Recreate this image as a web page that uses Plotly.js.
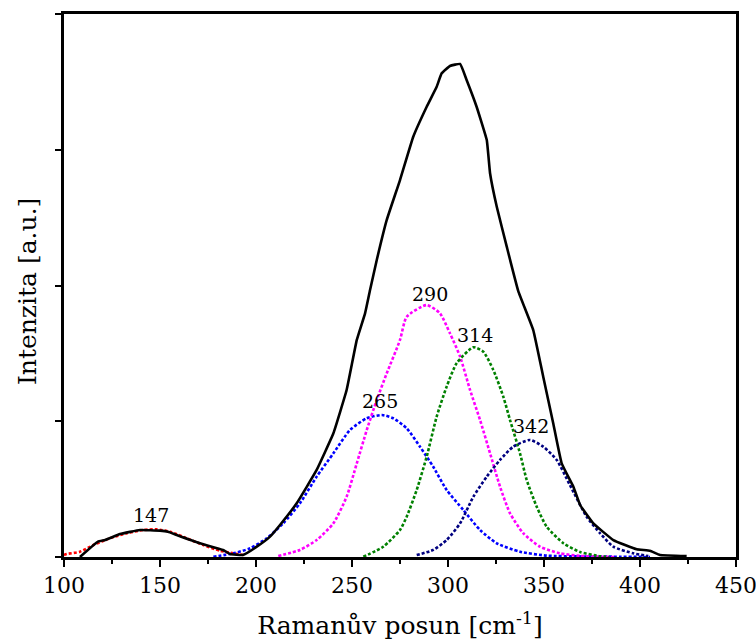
<!DOCTYPE html>
<html>
<head>
<meta charset="utf-8">
<script src="https://cdn.plot.ly/plotly-3.0.1.min.js"></script>
<style>html,body{margin:0;padding:0;background:#fff;}#chart{width:756px;height:642px;}</style>
</head>
<body>
<div id="chart"></div>
<script>
// Measured spectrum (black)
var measX = [108.3,117.7,121.4,129.2,139.6,150.0,154.2,158.7,170.8,182.8,186.5,193.2,200.4,207.3,212.5,221.2,231.6,240.3,247.2,252.5,256.8,259.4,262.9,268.1,275.0,281.9,288.9,294.1,296.7,301.0,306.3,309.7,314.9,320.2,321.9,325.4,330.6,336.6,344.4,349.6,354.8,359.2,365.3,368.8,375.7,386.1,398.3,405.2,410.4,424.3];
var measY = [0.000,0.113,0.125,0.169,0.199,0.194,0.186,0.162,0.101,0.052,0.022,0.015,0.076,0.150,0.236,0.396,0.641,0.911,1.230,1.599,1.795,1.967,2.188,2.483,2.777,3.096,3.317,3.464,3.563,3.617,3.632,3.514,3.317,3.071,2.827,2.580,2.286,1.959,1.672,1.328,0.985,0.690,0.518,0.383,0.248,0.125,0.057,0.046,0.015,0.007];

// Fitted components
var p147X = [100.0,101.4,108.3,115.3,124.0,132.7,141.3,148.3,155.2,163.9,172.6,181.3,188.2,193.4];
var p147Y = [0.015,0.022,0.039,0.088,0.138,0.175,0.199,0.204,0.186,0.138,0.088,0.046,0.027,0.015];

var p265X = [177.8,188.2,196.9,205.6,214.2,222.9,231.6,240.3,249.0,257.7,265.6,271.5,278.5,285.4,292.3,299.3,308.0,316.7,325.4,337.5,351.4,370.0,390.0,405.2];
var p265Y = [0.002,0.027,0.064,0.138,0.248,0.396,0.592,0.764,0.936,1.022,1.046,1.022,0.948,0.813,0.665,0.494,0.346,0.199,0.101,0.039,0.010,0.004,0.002,0.000];

var p290X = [211.6,222.9,231.6,240.3,247.2,252.5,257.7,262.9,268.1,275.0,278.5,288.9,295.8,301.0,306.3,311.5,316.7,321.9,327.1,332.3,339.2,347.9,358.3,368.8,386.5];
var p290Y = [0.007,0.052,0.125,0.248,0.444,0.690,0.936,1.157,1.353,1.599,1.770,1.856,1.795,1.648,1.476,1.230,1.009,0.764,0.518,0.322,0.175,0.076,0.027,0.008,0.000];

var p314X = [255.9,266.3,275.0,278.5,283.7,288.9,294.1,299.3,304.5,313.2,318.4,323.6,328.8,332.3,337.5,341.0,346.2,351.4,360.1,368.8,379.2,384.0];
var p314Y = [0.002,0.076,0.199,0.297,0.494,0.739,1.034,1.255,1.427,1.545,1.512,1.378,1.181,1.009,0.764,0.567,0.371,0.223,0.101,0.037,0.006,0.000];

var p342X = [283.7,292.3,299.3,306.3,313.2,320.2,327.1,334.0,342.7,349.6,356.6,363.5,372.2,379.2,386.1,396.5,404.3];
var p342Y = [0.015,0.052,0.125,0.248,0.444,0.592,0.715,0.813,0.862,0.813,0.715,0.530,0.297,0.175,0.076,0.027,0.007];

var peakLabels = ['147','265','290','314','342'];
var peakLabelX = [145.3,264.6,290.4,313.8,343.0];
var peakLabelY = [0.31,1.146,1.937,1.635,0.965];

var xTickVals = [100,150,200,250,300,350,400,450];

var dotDash = '3px,2px';
function comp(x, y, color) {
  return {x: x, y: y, type: 'scatter', mode: 'lines',
    line: {color: color, width: 2.6, dash: dotDash, shape: 'spline', smoothing: 0.6},
    hoverinfo: 'skip', showlegend: false};
}
var traces = [
  comp(p147X, p147Y, '#ff0000'),
  comp(p265X, p265Y, '#0000ff'),
  comp(p290X, p290Y, '#ff00ff'),
  comp(p314X, p314Y, '#008000'),
  comp(p342X, p342Y, '#000080'),
  {x: measX, y: measY, type: 'scatter', mode: 'lines',
   line: {color: '#000000', width: 2.6, shape: 'spline', smoothing: 0.3}, showlegend: false}
];

var font = 'DejaVu Serif';
var annotations = peakLabels.map(function (t, i) {
  return {x: peakLabelX[i], y: peakLabelY[i], text: t, showarrow: false,
    xanchor: 'center', yanchor: 'middle',
    font: {family: font, size: 19, color: '#000'}};
});
annotations.push({xref: 'paper', yref: 'paper', x: -0.055, y: 0.488,
  text: 'Intenzita [a.u.]', textangle: -90, showarrow: false,
  xanchor: 'center', yanchor: 'middle',
  font: {family: font, size: 25, color: '#000'}});

var layout = {
  width: 756, height: 642,
  margin: {l: 64, r: 20, t: 14, b: 85},
  paper_bgcolor: '#fff', plot_bgcolor: '#fff',
  showlegend: false,
  font: {family: font, color: '#000'},
  xaxis: {
    range: [100, 450], tickvals: xTickVals, ticktext: xTickVals.map(String),
    ticks: 'outside', ticklen: 7, tickwidth: 2, tickcolor: '#000',
    minor: {dtick: 25, tick0: 100, ticks: 'outside', ticklen: 4, tickwidth: 2, tickcolor: '#000'},
    showline: true, linecolor: '#000', linewidth: 2.6, mirror: true,
    showgrid: false, zeroline: false,
    ticklabeloverflow: 'allow',
    tickfont: {family: font, size: 22, color: '#000'},
    title: {text: 'Ramanův posun [cm<sup>-1</sup>]', font: {family: font, size: 25, color: '#000'}, standoff: 20},
    automargin: false
  },
  yaxis: {
    range: [0, 4], dtick: 1, tick0: 0,
    ticks: 'outside', ticklen: 6, tickwidth: 2, tickcolor: '#000',
    showticklabels: false,
    showline: true, linecolor: '#000', linewidth: 2.6, mirror: true,
    showgrid: false, zeroline: false,
    automargin: false
  },
  annotations: annotations
};

Plotly.newPlot('chart', traces, layout, {displayModeBar: false, staticPlot: true});
</script>
</body>
</html>
